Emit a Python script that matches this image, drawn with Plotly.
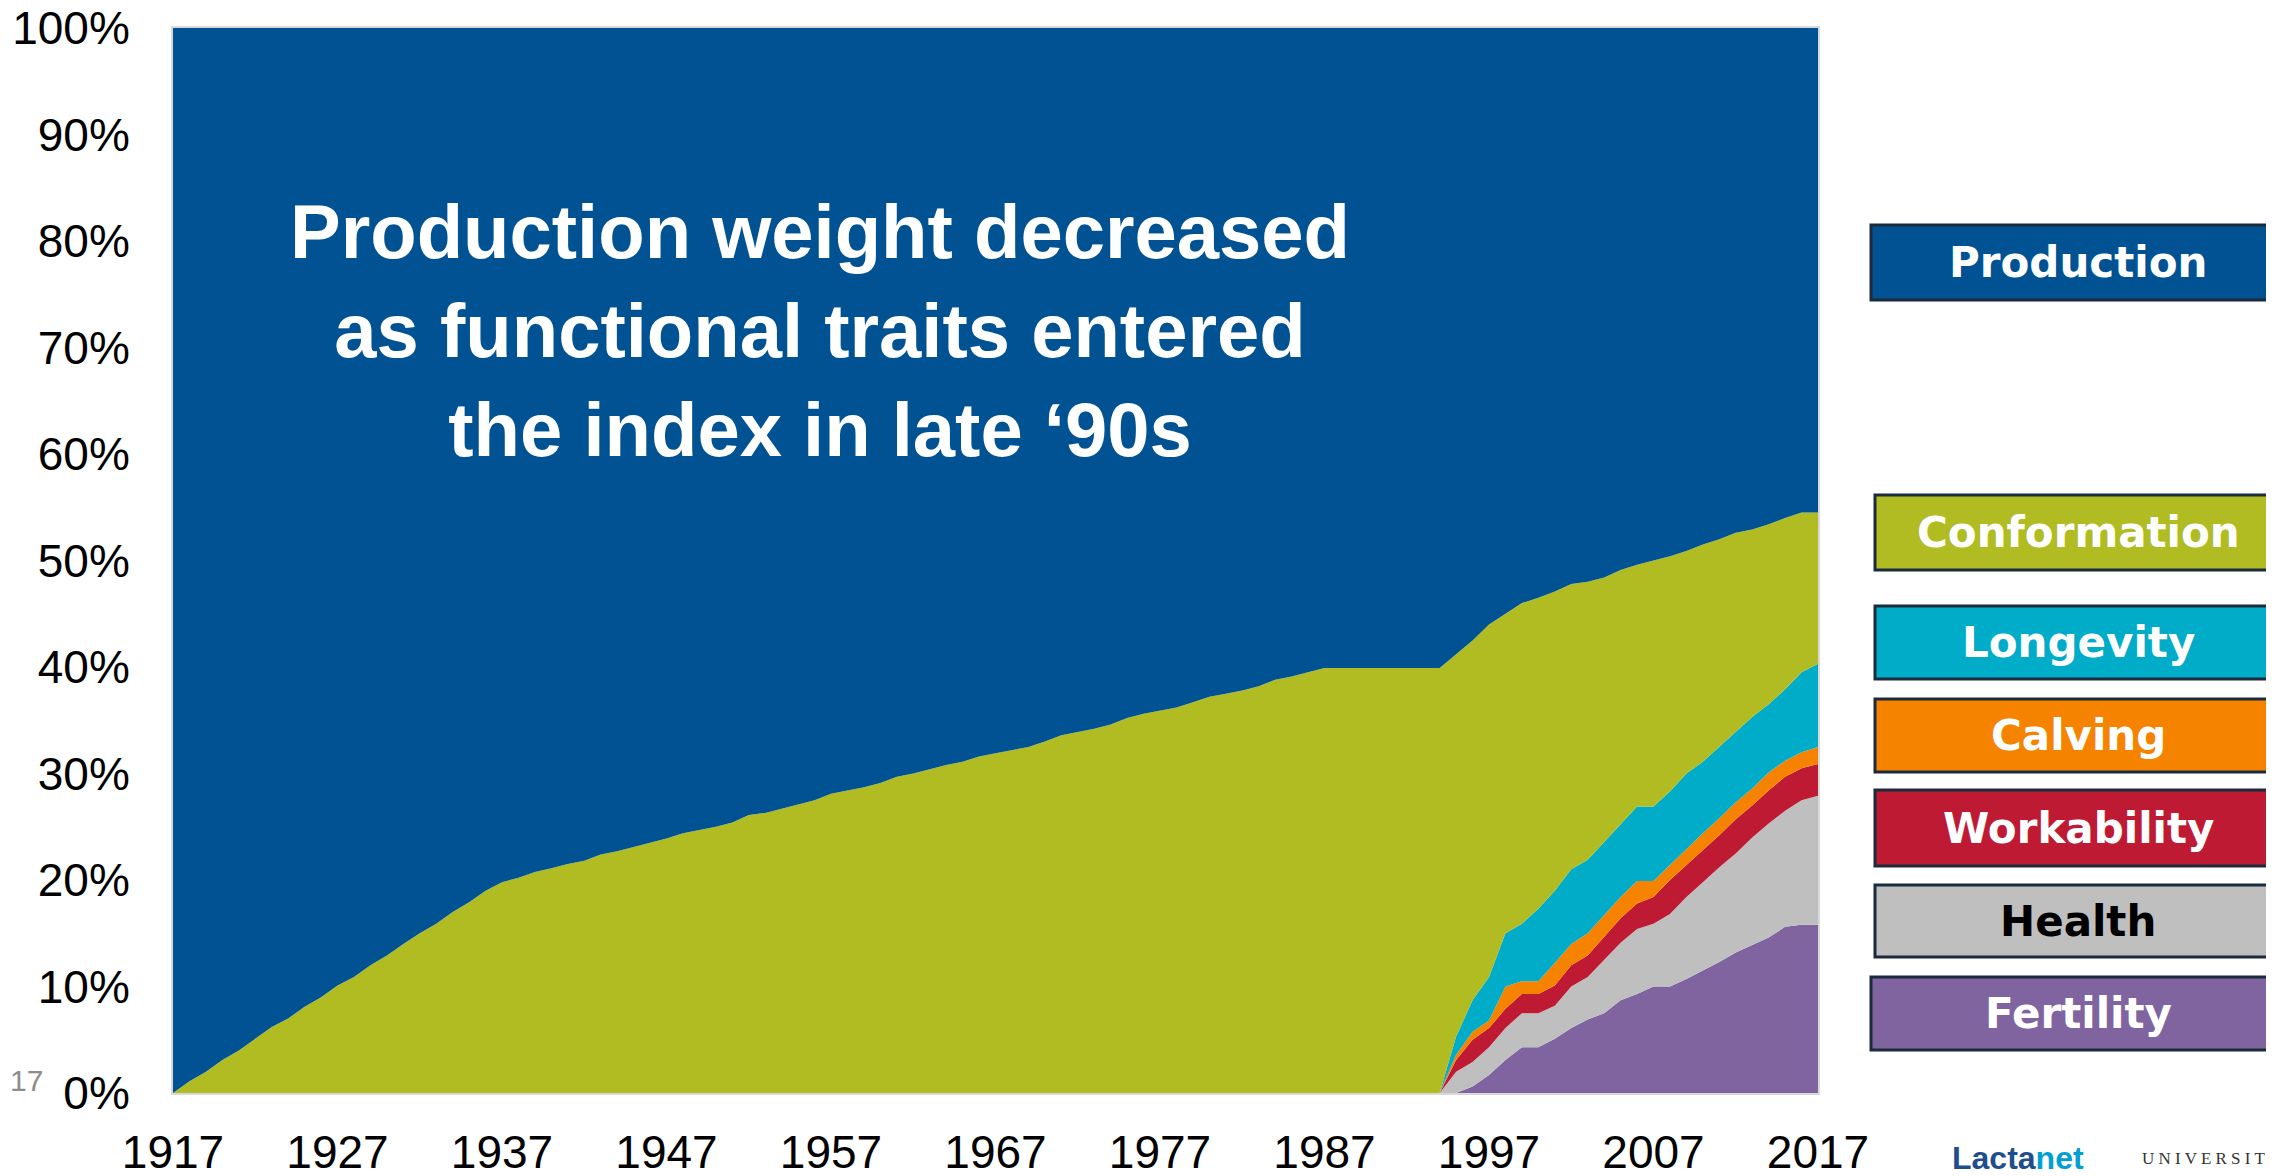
import plotly.graph_objects as go

# ---------------- data ----------------
years = list(range(1917, 2018))           # 1917 .. 2017
trait_years = list(range(1994, 2018))     # functional traits enter the index

production = [
    100.0, 98.9, 98.0, 96.9, 96.0, 94.9, 93.8, 93.0, 91.9, 91.0,   # 1917-1926
    89.9, 89.1, 88.0, 87.1, 86.0, 85.0, 84.1, 83.0, 82.1, 81.0,    # 1927-1936
    80.2, 79.8, 79.25, 78.9, 78.5, 78.2, 77.6, 77.3, 76.9, 76.5,   # 1937-1946
    76.1, 75.6, 75.3, 75.0, 74.6, 73.9, 73.7, 73.3, 72.9, 72.5,    # 1947-1956
    71.9, 71.6, 71.3, 70.9, 70.3, 70.0, 69.6, 69.2, 68.9, 68.4,    # 1957-1966
    68.1, 67.8, 67.5, 67.0, 66.4, 66.1, 65.8, 65.4, 64.8, 64.4,    # 1967-1976
    64.1, 63.8, 63.3, 62.8, 62.5, 62.2, 61.8, 61.2, 60.9, 60.5,    # 1977-1986
    60.1, 60.1, 60.1, 60.1, 60.1, 60.1, 60.1,                      # 1987-1993
    60.1, 58.8, 57.5, 56.0, 55.0, 54.0, 53.5, 52.9, 52.2, 52.0,    # 1994-2003
    51.6, 50.9, 50.4, 50.0, 49.6, 49.1, 48.5, 48.0, 47.4, 47.1,    # 2004-2013
    46.6, 46.0, 45.5, 45.5,                                        # 2014-2017
]

conformation = [
    0.0, 1.1, 2.0, 3.1, 4.0, 5.1, 6.2, 7.0, 8.1, 9.0,              # 1917-1926
    10.1, 10.9, 12.0, 12.9, 14.0, 15.0, 15.9, 17.0, 17.9, 19.0,    # 1927-1936
    19.8, 20.2, 20.75, 21.1, 21.5, 21.8, 22.4, 22.7, 23.1, 23.5,   # 1937-1946
    23.9, 24.4, 24.7, 25.0, 25.4, 26.1, 26.3, 26.7, 27.1, 27.5,    # 1947-1956
    28.1, 28.4, 28.7, 29.1, 29.7, 30.0, 30.4, 30.8, 31.1, 31.6,    # 1957-1966
    31.9, 32.2, 32.5, 33.0, 33.6, 33.9, 34.2, 34.6, 35.2, 35.6,    # 1967-1976
    35.9, 36.2, 36.7, 37.2, 37.5, 37.8, 38.2, 38.8, 39.1, 39.5,    # 1977-1986
    39.9, 39.9, 39.9, 39.9, 39.9, 39.9, 39.9,                      # 1987-1993
    39.9, 35.9, 33.8, 33.1, 30.0, 30.1, 29.2, 28.1, 26.8, 26.1,    # 1994-2003
    24.8, 23.8, 22.7, 23.1, 22.1, 20.9, 20.4, 19.5, 18.7, 17.6,    # 2004-2013
    16.9, 16.1, 15.0, 14.2,                                        # 2014-2017
]

# 1994-2017
longevity = [0.0, 1.7, 2.95, 4.1, 5.0, 5.4, 6.8, 6.8, 7.0, 6.9,
             6.9, 6.9, 7.0, 7.0, 6.9, 7.1, 6.7, 6.7, 6.6, 6.7,
             6.4, 6.7, 7.5, 7.8]
calving = [0.0, 0.5, 0.75, 0.7, 2.1, 1.2, 1.2, 2.1, 2.0, 2.1,
           2.0, 2.0, 2.1, 1.5, 1.4, 1.5, 1.6, 1.6, 1.6, 1.6,
           1.7, 1.5, 1.5, 1.6]
workability = [0.0, 1.1, 2.1, 1.8, 1.8, 1.8, 1.8, 1.9, 2.0, 2.0,
               2.2, 2.3, 2.4, 2.5, 3.2, 3.0, 3.0, 3.0, 3.2, 3.0,
               3.1, 3.2, 3.0, 3.0]
health = [0.0, 2.0, 2.3, 2.6, 3.0, 3.2, 3.2, 3.1, 3.9, 4.0,
          5.0, 5.4, 6.1, 5.9, 6.8, 7.7, 8.3, 8.9, 9.3, 10.1,
          10.7, 10.9, 11.7, 12.1]
fertility = [0.0, 0.0, 0.6, 1.7, 3.1, 4.3, 4.3, 5.1, 6.1, 6.9,
             7.5, 8.7, 9.3, 10.0, 10.0, 10.7, 11.5, 12.3, 13.2, 13.9,
             14.6, 15.6, 15.8, 15.8]

x_tick_years = [1917, 1927, 1937, 1947, 1957, 1967, 1977, 1987, 1997, 2007, 2017]
y_ticks = [0, 10, 20, 30, 40, 50, 60, 70, 80, 90, 100]

# ---------------- styling ----------------
COL = {
    "Production": "#005293",
    "Conformation": "#B0BC22",
    "Longevity": "#00ACC8",
    "Calving": "#F58300",
    "Workability": "#BE1A33",
    "Health": "#BFBFBF",
    "Fertility": "#8064A0",
}

OFF = 8                            # page offset of the figure div
W, H = 2274 - OFF, 1176 - OFF
L, R, T, B = 173, 1818, 28, 1093   # plot area in page pixels


def px_x(X):
    return (X - L) / (R - L)


def px_y(Y):
    return (B - Y) / (B - T)


series_bottom_up = [
    ("Fertility", trait_years, fertility),
    ("Health", trait_years, health),
    ("Workability", trait_years, workability),
    ("Calving", trait_years, calving),
    ("Longevity", trait_years, longevity),
    ("Conformation", years, conformation),
    ("Production", years, production),
]

fig = go.Figure()
for name, xs, ys in series_bottom_up:
    fig.add_trace(go.Scatter(
        x=xs, y=ys, name=name, mode="lines",
        stackgroup="w", stackgaps="infer zero",
        line=dict(width=0, color=COL[name]),
        fillcolor=COL[name],
        hoverinfo="x+y+name",
    ))

# headline annotation
fig.add_annotation(
    x=px_x(820), y=px_y(331), xref="paper", yref="paper",
    text="<b>Production weight decreased<br>as functional traits entered<br>the index in late \u201890s</b>",
    showarrow=False, align="center", xanchor="center", yanchor="middle",
    font=dict(family="Liberation Sans, Arial, sans-serif", size=76, color="white"),
)

# legend boxes (label blocks on the right)
legend_boxes = [
    ("Production", 1871, 225, 300, "white"),
    ("Conformation", 1875, 495, 570, "white"),
    ("Longevity", 1875, 606, 679, "white"),
    ("Calving", 1875, 699, 772, "white"),
    ("Workability", 1875, 790, 866, "white"),
    ("Health", 1875, 885, 957, "black"),
    ("Fertility", 1871, 977, 1050, "white"),
]
for name, x0, y0, y1, tc in legend_boxes:
    fig.add_shape(
        type="rect", xref="paper", yref="paper",
        x0=px_x(x0), x1=px_x(2300), y0=px_y(y1), y1=px_y(y0),
        fillcolor=COL[name], line=dict(color="#1B2B3C", width=3), layer="above",
    )
    fig.add_annotation(
        x=px_x(2078), y=px_y((y0 + y1) / 2), xref="paper", yref="paper",
        text=f"<b>{name}</b>", showarrow=False, xanchor="center", yanchor="middle",
        font=dict(family="DejaVu Sans, sans-serif", size=42, color=tc),
    )

# slide furniture
fig.add_annotation(x=px_x(8), y=px_y(1080), xref="paper", yref="paper", text="17",
                   showarrow=False, xanchor="left", yanchor="middle",
                   font=dict(family="Liberation Sans, Arial", size=30, color="#8C8C8C"))
fig.add_annotation(x=px_x(2140), y=px_y(1158), xref="paper", yref="paper",
                   text="U N I V E R S I T Y",
                   showarrow=False, xanchor="left", yanchor="middle",
                   font=dict(family="Liberation Serif, serif", size=17, color="#333333"))
fig.add_annotation(x=px_x(1950), y=px_y(1158), xref="paper", yref="paper",
                   text="<b>Lacta<span style='color:#00A0D2'>net</span></b>",
                   showarrow=False, xanchor="left", yanchor="middle",
                   font=dict(family="Liberation Sans, Arial", size=32, color="#1F4E8C"))

axis_font = dict(family="Liberation Sans, Arial, sans-serif", size=46, color="black")
fig.update_layout(
    width=W, height=H,
    margin=dict(l=L - OFF, r=(W + OFF) - R, t=T - OFF, b=(H + OFF) - B,
                pad=0, autoexpand=False),
    paper_bgcolor="white", plot_bgcolor="white",
    showlegend=False,
    xaxis=dict(
        range=[1917, 2017], tickmode="array", tickvals=x_tick_years,
        ticktext=[str(v) for v in x_tick_years], tickfont=axis_font,
        showgrid=False, zeroline=False, ticks="", ticklabelstandoff=18,
        ticklabeloverflow="allow",
        showline=True, linecolor="#D9D9D9", linewidth=2, mirror=True,
        automargin=False,
    ),
    yaxis=dict(
        range=[0, 100], tickmode="array", tickvals=y_ticks,
        ticktext=[f"{v}%" for v in y_ticks], tickfont=axis_font,
        showgrid=False, zeroline=False, ticks="", ticklabelstandoff=32,
        ticklabeloverflow="allow",
        showline=True, linecolor="#D9D9D9", linewidth=2, mirror=True,
        automargin=False,
    ),
)

fig.write_html("out.html")
